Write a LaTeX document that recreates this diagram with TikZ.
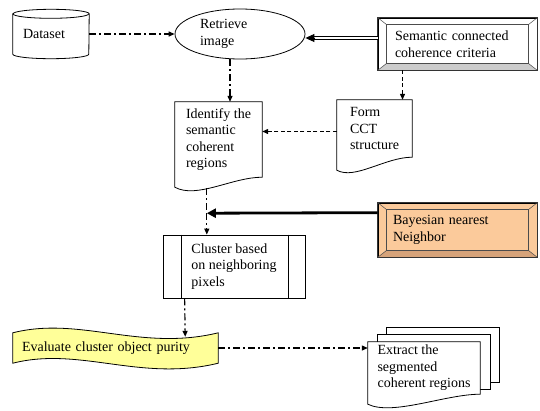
\documentclass[tikz,border=0pt]{standalone}
\usepackage{fontspec}
\setmainfont{Liberation Serif}
\usepackage{tikz}
\usetikzlibrary{calc, positioning, shapes, arrows.meta, backgrounds}
\definecolor{peach}{RGB}{251,202,155}
\definecolor{peachdark}{RGB}{214,163,122}
\definecolor{tapeyellow}{RGB}{255,255,153}

\begin{document}
\begin{tikzpicture}[x=1pt, y=-1pt,
                txt/.style={font=\fontsize{14}{16.5}\selectfont, inner sep=0pt, align=left},
                bevel/.style={txt, draw, line width=0.7pt, minimum width=159pt, minimum height=52pt, text width=125pt},
                dd/.style={line width=1.2pt, dash pattern=on 7pt off 3pt on 2pt off 3pt, -{Triangle[length=6pt,width=5pt]}},
                dsh/.style={line width=1.2pt, dash pattern=on 4pt off 2.5pt, -{Triangle[length=6pt,width=5pt]}},
                dbl/.style={double, double distance=1.4pt, line width=0.9pt, shorten >=8pt},
                heavy/.style={line width=2.8pt, -{Triangle[length=9pt,width=9pt]}}]
                \useasboundingbox (0,0) rectangle (540,410);

                \node[txt, text width=56pt, minimum width=76pt, minimum height=49pt] (ds) at (51,34) {Dataset};
                \node[txt, ellipse, draw, line width=0.8pt, text width=80pt, minimum width=130pt, minimum height=50pt] (ret) at (240,34) {Retrieve\\image};
                \node[bevel, fill=white] (sem) at (457.5,44) {Semantic connected\\coherence criteria};
                \node[txt, minimum width=87pt, minimum height=75pt] (idt) at (218.5,139.5) {Identify the\\semantic\\coherent\\regions};
                \node[txt, minimum width=75pt, minimum height=57pt] (frm) at (374.5,128.5) {Form\\CCT\\structure};
                \node[bevel, fill=peach, minimum height=54pt, text width=129pt] (bay) at (457.5,230) {Bayesian nearest\\Neighbor};
                \node[txt, draw, line width=0.8pt, minimum width=142pt, minimum height=63pt] (cl) at (234,266.5) {Cluster based\\on neighboring\\pixels};
                \node[txt, text width=187pt, minimum width=205pt, minimum height=30pt] (ev) at (115.5,348) {Evaluate cluster object purity};
                \node[txt, minimum width=112pt, minimum height=52pt] (ext) at (424,368) {Extract the\\segmented\\coherent regions};

                \begin{pgfonlayer}{background}
                    \draw[line width=0.8pt, fill=white] ($(ds.north west)+(0,4.5)$) -- ($(ds.south west)+(0,-4.5)$)
                        arc[start angle=180, end angle=360, x radius=38pt, y radius=4.5pt] -- ($(ds.north east)+(0,4.5)$)
                        arc[start angle=0, end angle=180, x radius=38pt, y radius=4.5pt] -- cycle;
                    \draw[line width=0.8pt] ($(ds.north west)+(0,4.5)$) arc[start angle=180, end angle=360, x radius=38pt, y radius=4.5pt];

                    \draw[line width=0.8pt, fill=white] ($(idt.south west)+(0,10)$) -- (idt.north west) -- (idt.north east) -- (idt.south east)
                        .. controls +(-30,0) and +(22,12) .. ($(idt.south west)+(0,10)$) -- cycle;
                    \draw[line width=0.8pt, fill=white] ($(frm.south west)+(0,13)$) -- (frm.north west) -- (frm.north east) -- (frm.south east)
                        .. controls +(-27,0) and +(18,10) .. ($(frm.south west)+(0,13)$) -- cycle;

                    \draw[line width=0.8pt, fill=tapeyellow] (ev.north west) .. controls +(67,-17) and +(-78,19) .. (ev.north east)
                        -- (ev.south east) .. controls +(-78,19) and +(67,-17) .. (ev.south west) -- cycle;

                    \draw[line width=0.8pt, fill=white] ($(ext.north west)+(19,-14)$) rectangle ($(ext.south east)+(19,-12)$);
                    \draw[line width=0.8pt, fill=white] ($(ext.north west)+(10,-7)$) rectangle ($(ext.south east)+(10,-5)$);
                    \draw[line width=0.8pt, fill=white] ($(ext.south west)+(0,10)$) -- (ext.north west) -- (ext.north east) -- (ext.south east)
                        .. controls +(-35,0) and +(25,12) .. ($(ext.south west)+(0,10)$) -- cycle;
                \end{pgfonlayer}

                \foreach \b/\c in {sem/gray!40, bay/peachdark}
                {
                    \fill[fill=\c] (\b.south west) -- (\b.south east) -- ++(-9,-7) -- ($(\b.south west)+(9,-7)$) -- cycle;
                    \draw[line width=0.7pt, black!80] (\b.south west) rectangle (\b.north east);
                    \draw[line width=0.5pt, black!70] ($(\b.north west)+(9,7)$) rectangle ($(\b.south east)+(-9,-7)$);
                    \draw[line width=0.5pt, black!70] (\b.north west) -- ++(9,7) (\b.north east) -- ++(-9,7)
                        (\b.south west) -- ++(9,-7) (\b.south east) -- ++(-9,-7);
                }

                \draw[line width=0.8pt] ($(cl.north west)+(19,0)$) -- ($(cl.south west)+(19,0)$);
                \draw[line width=0.8pt] ($(cl.north east)+(-17,0)$) -- ($(cl.south east)+(-17,0)$);

                \coordinate (r1) at ([xshift=-10pt]ret.south);
                \coordinate (s0) at ([yshift=6pt]sem.west);
                \coordinate (s1) at (s0 -| ret.east);
                \coordinate (f1) at ([xshift=28pt]frm.north);
                \coordinate (f2) at ([yshift=-3pt]frm.west);
                \coordinate (join) at ($(idt.south west)+(32,36)$);

                \draw[dd] (ds) -- (ret);
                \draw[dd] (r1) -- (r1 |- idt.north);
                \draw[dbl] (s0) -- (s1);
                \draw[line width=0.9pt, -{Triangle[length=9pt,width=8pt]}] ($(s1)+(10,0)$) -- (s1);
                \draw[dsh] (f1 |- sem.south) -- (f1);
                \draw[dsh] (f2) -- (f2 -| idt.east);
                \draw[dd, -] ($(idt.south west)+(32,11)$) -- (join);
                \draw[dd] (join) -- (join |- cl.north);
                \draw[heavy] ([yshift=-10pt]bay.north west) -- (join);
                \draw[dd] ($(cl.south west)+(22,0)$) -- ($(ev.north east)+(-33,4)$);
                \draw[dd] (ev.east) -- (ev.east -| ext.west);
            \end{tikzpicture}
\end{document}
